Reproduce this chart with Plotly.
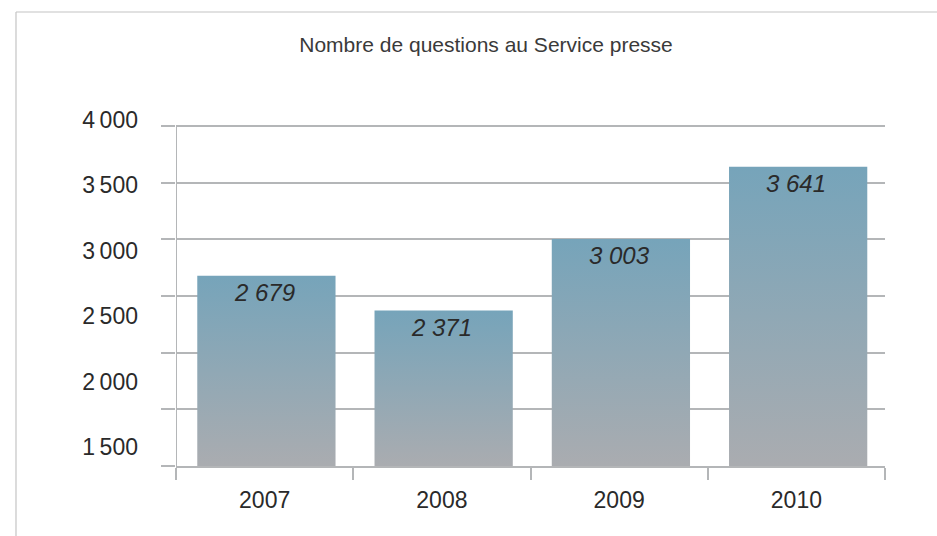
import plotly.graph_objects as go

# Data
years = ["2007", "2008", "2009", "2010"]
questions = [2679, 2371, 3003, 3641]
y_tick_values = [1500, 2000, 2500, 3000, 3500, 4000]
y_tick_labels = ["1\u2009500", "2\u2009000", "2\u2009500", "3\u2009000", "3\u2009500", "4\u2009000"]
title_text = "Nombre de questions au Service presse"

# Styling
GRID = "#b4b6b8"
TEXT = "#2a2a2a"
BAR_TOP = "#76a4ba"
BAR_BOTTOM = "#aaacb0"
FONT = "Liberation Sans, Arial, sans-serif"
Y_BASE = 1000
BAR_WIDTH = 0.78

W, H = 937, 536
M_L, M_R, M_T, M_B = 176, 52, 118, 70

fig = go.Figure()

# Bars drawn as filled polygons so each can carry a vertical gradient
for i, (yr, v) in enumerate(zip(years, questions)):
    x0, x1 = i - BAR_WIDTH / 2 + 0.01, i + BAR_WIDTH / 2 + 0.01
    fig.add_trace(go.Scatter(
        x=[x0, x1, x1, x0, x0],
        y=[Y_BASE, Y_BASE, v, v, Y_BASE],
        mode="lines",
        line=dict(width=0),
        fill="toself",
        fillgradient=dict(
            type="vertical",
            colorscale=[[0, BAR_BOTTOM], [1, BAR_TOP]],
            start=Y_BASE,
            stop=v,
        ),
        showlegend=False,
        hoverinfo="skip",
    ))
    fig.add_annotation(
        x=i, y=v, xref="x", yref="y",
        text=f"{v:,}".replace(",", " "),
        showarrow=False, yanchor="top", yshift=-1,
        font=dict(family=FONT, size=24, color=TEXT, style="italic"),
    )

# Placeholder trace so the label axis is laid out
fig.add_trace(go.Scatter(x=[None], y=[None], yaxis="y2", showlegend=False, hoverinfo="skip"))

# Axis ranges
y1_top = 4000 + 8 * 3000 / 340.5
y2_range = [1354.7, 4015.3]

fig.update_layout(
    width=W, height=H,
    margin=dict(l=M_L, r=M_R, t=M_T, b=M_B),
    paper_bgcolor="white", plot_bgcolor="white",
    title=dict(
        text=title_text, xref="paper", x=(486 - M_L) / (W - M_L - M_R), xanchor="center",
        yref="container", y=1 - 45 / H, yanchor="middle",
        font=dict(family=FONT, size=21, color="#3a3a3a"),
    ),
    xaxis=dict(
        range=[-0.5, 3.5],
        tickvals=list(range(len(years))), ticktext=years,
        ticks="", showgrid=False, zeroline=False,
        showline=True, linecolor=GRID, linewidth=2,
        tickfont=dict(family=FONT, size=23, color=TEXT),
        ticklabelstandoff=12,
        minor=dict(tickvals=[-0.5, 0.5, 1.5, 2.5, 3.5], ticks="outside",
                   ticklen=12, tickwidth=2, tickcolor=GRID, showgrid=False),
    ),
    yaxis=dict(
        range=[Y_BASE, y1_top], tick0=Y_BASE, dtick=500,
        showgrid=True, gridcolor=GRID, gridwidth=2,
        ticks="outside", ticklen=14, tickwidth=2, tickcolor=GRID,
        showticklabels=False, zeroline=False, showline=False,
    ),
    yaxis2=dict(
        overlaying="y", side="left", anchor="x",
        range=y2_range,
        tickvals=y_tick_values, ticktext=y_tick_labels,
        ticks="", showgrid=False, zeroline=False, showline=False,
        tickfont=dict(family=FONT, size=23, color=TEXT),
        ticklabelstandoff=37,
    ),
    shapes=[
        # vertical value axis line
        dict(type="line", xref="x", yref="y", x0=-0.5, x1=-0.5, y0=Y_BASE, y1=4000,
             line=dict(color=GRID, width=2), layer="above"),
        # outer frame (left and top edges)
        dict(type="line", xref="paper", yref="paper",
             x0=(16 - M_L) / (W - M_L - M_R), x1=(16 - M_L) / (W - M_L - M_R),
             y0=(H - M_B - 560) / (H - M_T - M_B), y1=(H - M_B - 12) / (H - M_T - M_B),
             line=dict(color="#c4c4c4", width=1.2)),
        dict(type="line", xref="paper", yref="paper",
             x0=(16 - M_L) / (W - M_L - M_R), x1=(960 - M_L) / (W - M_L - M_R),
             y0=(H - M_B - 12) / (H - M_T - M_B), y1=(H - M_B - 12) / (H - M_T - M_B),
             line=dict(color="#c4c4c4", width=1.2)),
    ],
)

fig.write_html("out.html")
